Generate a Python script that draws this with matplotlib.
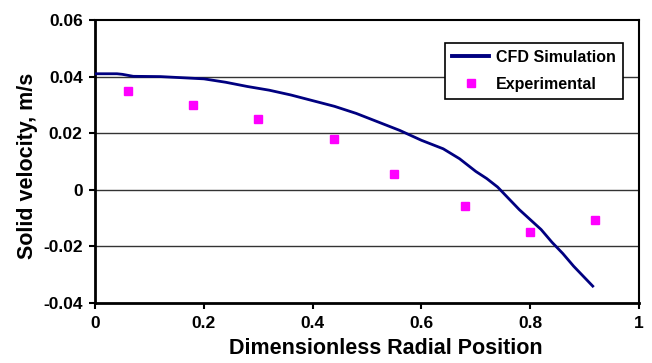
import matplotlib
matplotlib.use("Agg")
import matplotlib.pyplot as plt

plt.rcParams['font.family'] = ['Liberation Sans', 'DejaVu Sans']

# CFD simulation profile
cfd_x = [0, 0.04, 0.05, 0.07, 0.12, 0.17, 0.20, 0.24, 0.28, 0.32, 0.36, 0.40,
         0.44, 0.48, 0.52, 0.56, 0.60, 0.64, 0.67, 0.70, 0.72, 0.74, 0.76,
         0.78, 0.80, 0.82, 0.84, 0.86, 0.88, 0.90, 0.915]
cfd_y = [0.041, 0.041, 0.0408, 0.0401, 0.0400, 0.0395, 0.0392, 0.0380, 0.0365,
         0.0352, 0.0335, 0.0315, 0.0295, 0.0270, 0.0240, 0.0210, 0.0175, 0.0145,
         0.0110, 0.0065, 0.0040, 0.0010, -0.0030, -0.0070, -0.0105, -0.0140,
         -0.0185, -0.0225, -0.0270, -0.0310, -0.0340]

# Experimental measurements
exp_x = [0.06, 0.18, 0.30, 0.44, 0.55, 0.68, 0.80, 0.92]
exp_y = [0.035, 0.030, 0.025, 0.018, 0.0055, -0.0057, -0.0149, -0.0107]

x_ticks = [0, 0.2, 0.4, 0.6, 0.8, 1]
x_tick_labels = ['0', '0.2', '0.4', '0.6', '0.8', '1']
y_ticks = [-0.04, -0.02, 0, 0.02, 0.04, 0.06]
y_tick_labels = ['-0.04', '-0.02', '0', '0.02', '0.04', '0.06']

fig = plt.figure(figsize=(6.52, 3.63), dpi=100)
ax = fig.add_axes([0.146, 0.165, 0.834, 0.780])

ax.plot(cfd_x, cfd_y, color='#000080', lw=2.0, label='CFD Simulation', zorder=3)
ax.plot(exp_x, exp_y, ls='none', marker='s', ms=6, color='#ff00ff',
        mec='#ff00ff', label='Experimental', zorder=4)

ax.set_xlim(0, 1)
ax.set_ylim(-0.04, 0.06)
ax.set_xticks(x_ticks)
ax.set_xticklabels(x_tick_labels)
ax.set_yticks(y_ticks)
ax.set_yticklabels(y_tick_labels)

for yv in y_ticks[1:-1]:
    ax.axhline(yv, color='#333333', lw=1.0, zorder=1)

for side in ['left', 'bottom']:
    ax.spines[side].set_linewidth(2.0)
for side in ['top', 'right']:
    ax.spines[side].set_linewidth(1.5)

ax.tick_params(direction='out', length=4, width=1.5, labelsize=12.5, pad=5)
for lbl in ax.get_xticklabels() + ax.get_yticklabels():
    lbl.set_fontweight('bold')

ax.set_xlabel('Dimensionless Radial Position', fontsize=15.5, fontweight='bold')
ax.xaxis.label.set_va('center')
ax.xaxis.set_label_coords(0.535, -0.159)
ax.set_ylabel('Solid velocity, m/s', fontsize=15.5, fontweight='bold')
ax.yaxis.label.set_va('center')
ax.yaxis.set_label_coords(-0.125, 0.484)

leg = ax.legend(loc='upper right', bbox_to_anchor=(0.971, 0.919), borderaxespad=0,
                fontsize=11.5, fancybox=False, framealpha=1, edgecolor='black',
                handlelength=2.3, handletextpad=0.45, borderpad=0.45,
                labelspacing=0.75)
leg.get_frame().set_linewidth(1.2)
leg.get_lines()[0].set_linewidth(2.8)
for t in leg.get_texts():
    t.set_fontweight('bold')

fig.savefig('out.png', dpi=100, facecolor='white')
